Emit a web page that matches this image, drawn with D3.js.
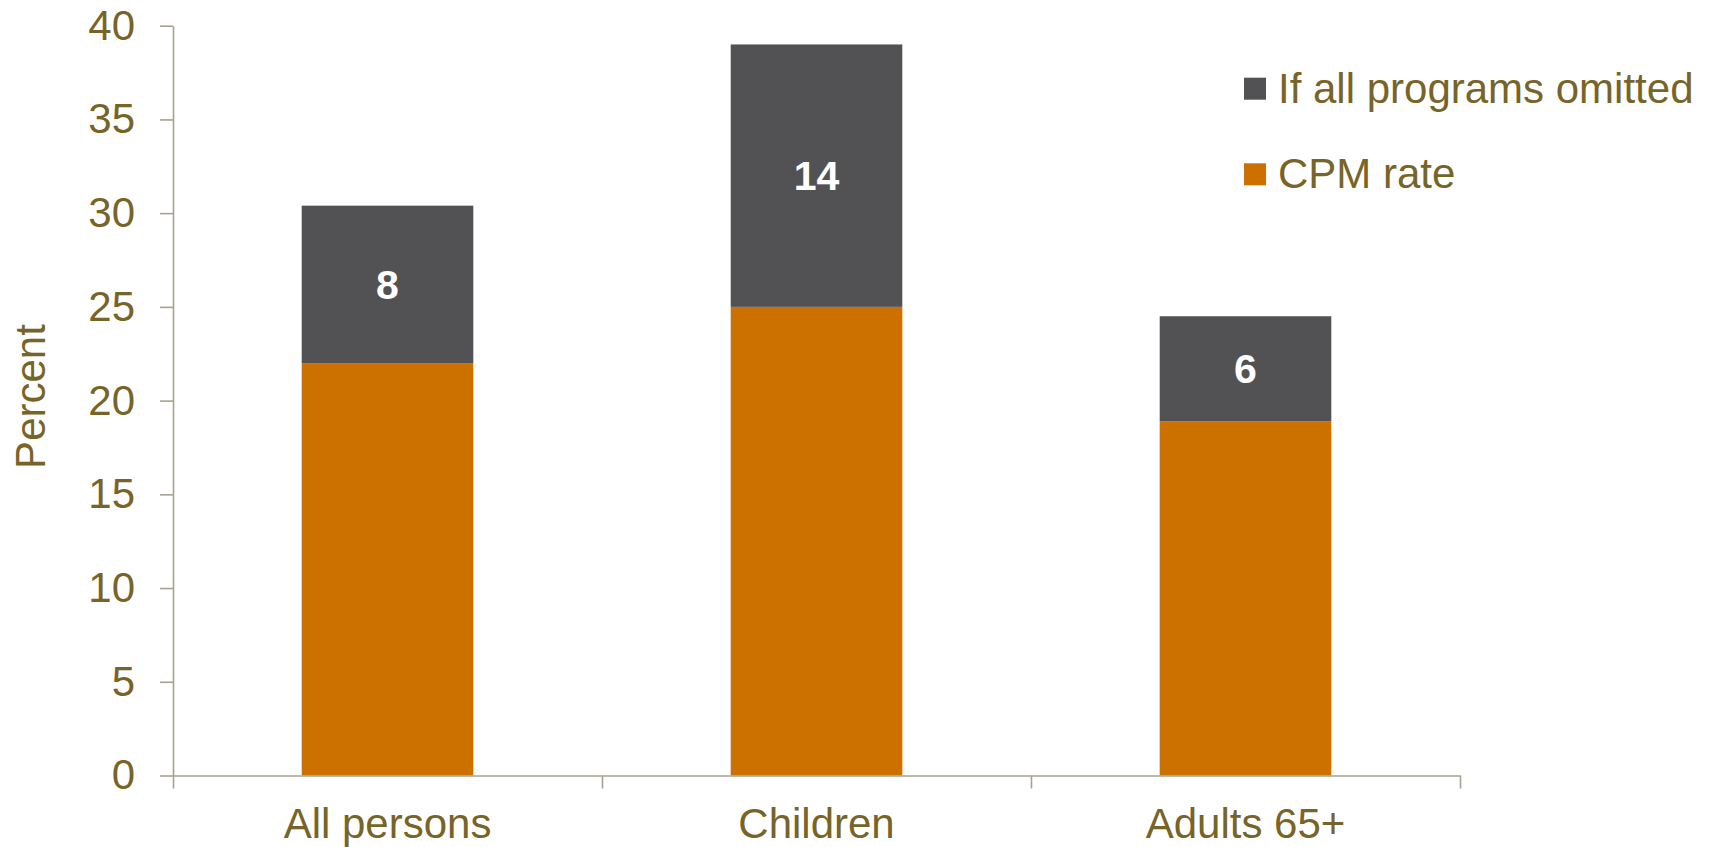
<!DOCTYPE html>
<html>
<head>
<meta charset="utf-8">
<script src="https://cdn.jsdelivr.net/npm/d3@7"></script>
<style>
  html, body { margin: 0; padding: 0; background: #ffffff; }
  svg { display: block; }
  text { font-family: "Liberation Sans", Arial, Helvetica, sans-serif; }
</style>
</head>
<body>
<svg id="chart" width="1716" height="847"></svg>
<script>
// ---- data ----
const categories = ["All persons", "Children", "Adults 65+"];
const cpmRate = [22.0, 25.0, 18.9];
const programsOmittedExtra = [8.4, 14.0, 5.6];
const seriesNames = ["If all programs omitted", "CPM rate"];
const yTicks = [0, 5, 10, 15, 20, 25, 30, 35, 40];

// ---- styles ----
const textColor = "#776428";
const axisColor = "#a8a292";
const orange = "#cc7000";
const dark = "#525254";

const svg = d3.select("#chart");

const plotLeft = 173, plotRight = 1460, plotTop = 25.7, plotBottom = 775.5;

const y = d3.scaleLinear().domain([0, 40]).range([plotBottom, plotTop]);
const x = d3.scaleBand().domain(categories).range([plotLeft, plotRight])
  .paddingInner(0.6).paddingOuter(0.3);
const xb = d3.scaleLinear().domain([0, categories.length]).range([plotLeft, plotRight]);

const rows = categories.map((c, i) => ({ cat: c, cpm: cpmRate[i], extra: programsOmittedExtra[i] }));
const stack = d3.stack().keys(["cpm", "extra"])(rows);
const colors = { cpm: orange, extra: dark };

// bars
svg.append("g").selectAll("g").data(stack).join("g")
  .attr("fill", d => colors[d.key])
  .selectAll("rect").data(d => d).join("rect")
  .attr("x", d => x(d.data.cat))
  .attr("width", x.bandwidth())
  .attr("y", d => y(d[1]))
  .attr("height", d => y(d[0]) - y(d[1]));

// bar labels (top segment)
const fmt = d3.format(".0f");
svg.append("g").selectAll("text").data(stack[1]).join("text")
  .attr("x", d => x(d.data.cat) + x.bandwidth() / 2)
  .attr("y", d => (y(d[0]) + y(d[1])) / 2)
  .attr("dy", "0.35em")
  .attr("text-anchor", "middle")
  .attr("fill", "#ffffff")
  .attr("font-weight", "bold")
  .attr("font-size", 41)
  .text(d => fmt(d.data.extra));

// y axis
const yAxis = svg.append("g")
  .attr("transform", `translate(${plotLeft},0)`)
  .call(d3.axisLeft(y).tickValues(yTicks).tickSize(13).tickSizeOuter(0).tickPadding(25));
yAxis.select(".domain").attr("stroke", axisColor).attr("stroke-width", 1.6);
yAxis.selectAll(".tick line").attr("stroke", axisColor).attr("stroke-width", 1.6);
yAxis.selectAll(".tick text").attr("fill", textColor).attr("font-size", 42)
  .attr("font-family", "Liberation Sans, Arial, sans-serif");

// x axis: boundary ticks
const xAxis = svg.append("g")
  .attr("transform", `translate(0,${plotBottom})`)
  .call(d3.axisBottom(xb).tickValues(d3.range(categories.length + 1)).tickFormat("").tickSize(13).tickSizeOuter(0));
xAxis.select(".domain").attr("stroke", axisColor).attr("stroke-width", 1.6);
xAxis.selectAll(".tick line").attr("stroke", axisColor).attr("stroke-width", 1.6);

// x axis labels
const xLab = svg.append("g")
  .attr("transform", `translate(0,${plotBottom})`)
  .call(d3.axisBottom(x).tickSize(0).tickPadding(0));
xLab.select(".domain").remove();
xLab.selectAll(".tick text").attr("fill", textColor).attr("font-size", 42)
  .attr("font-family", "Liberation Sans, Arial, sans-serif")
  .attr("dy", null).attr("y", 62);

// y axis title
svg.append("text")
  .attr("transform", `translate(45,396.5) rotate(-90)`)
  .attr("text-anchor", "middle")
  .attr("fill", textColor)
  .attr("font-size", 42)
  .text("Percent");

// legend
const legendItems = [
  { name: seriesNames[0], color: dark },
  { name: seriesNames[1], color: orange }
];
const lg = svg.append("g").selectAll("g").data(legendItems).join("g")
  .attr("transform", (d, i) => `translate(1244,${102.7 + i * 85.6})`);
lg.append("rect").attr("x", 0).attr("y", -25).attr("width", 22).attr("height", 22)
  .attr("fill", d => d.color);
lg.append("text").attr("x", 34).attr("y", 0).attr("fill", textColor)
  .attr("font-size", 42).text(d => d.name);
</script>
</body>
</html>
